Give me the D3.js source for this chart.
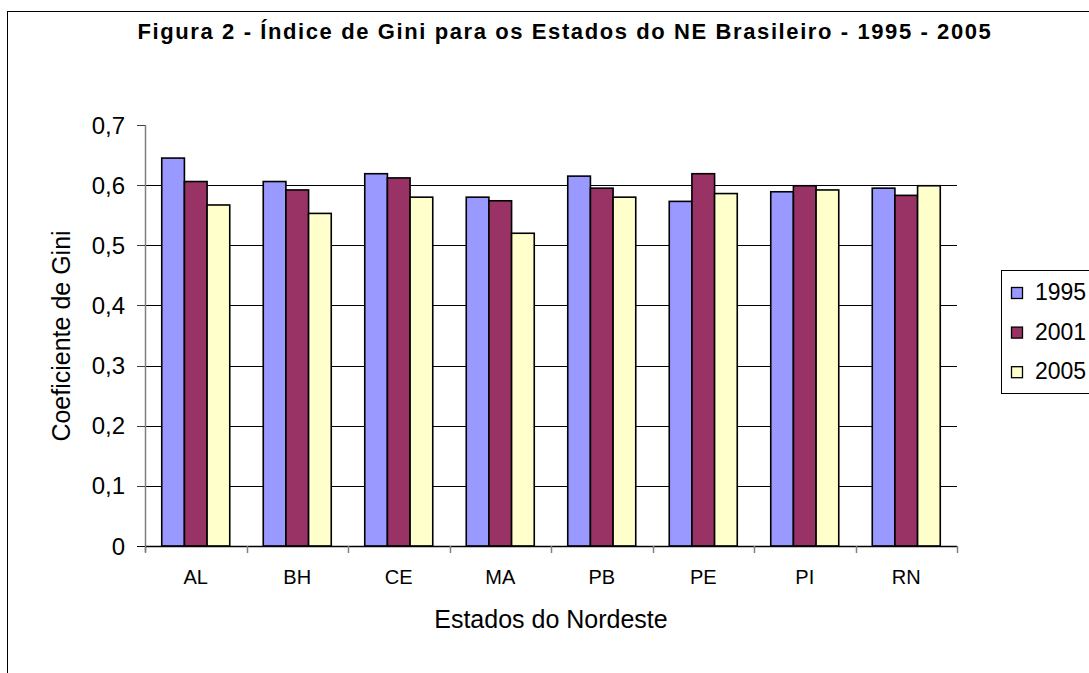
<!DOCTYPE html>
<html>
<head>
<meta charset="utf-8">
<script src="https://cdn.jsdelivr.net/npm/d3@7"></script>
<style>
    body { margin: 0; background: #fff; }
    svg { display: block; }
    text { font-family: Arial, "Liberation Sans", sans-serif; fill: #000; }
</style>
</head>
<body>
<div id="chart"></div>
<script>
// dados
const estados = ["AL", "BH", "CE", "MA", "PB", "PE", "PI", "RN"]
const anos = ["1995", "2001", "2005"]
const gini1995 = [0.645, 0.606, 0.619, 0.580, 0.615, 0.573, 0.589, 0.595]
const gini2001 = [0.606, 0.592, 0.612, 0.574, 0.595, 0.619, 0.599, 0.583]
const gini2005 = [0.567, 0.553, 0.580, 0.520, 0.580, 0.586, 0.592, 0.599]
const yTicks = [0, 0.1, 0.2, 0.3, 0.4, 0.5, 0.6, 0.7]
const cores = ["#9999FF", "#993366", "#FFFFCC"]

const width = 1089
const height = 673
const plot = { left: 145, right: 957, top: 125, bottom: 546 }

let svg = d3.select("#chart").append("svg")
    .attr("width", width)
    .attr("height", height)

// moldura do gráfico
svg.append("rect")
    .attr("x", 7.5).attr("y", 11.5)
    .attr("width", 1200).attr("height", 800)
    .attr("fill", "#fff")
    .attr("stroke", "#000")

let series = [gini1995, gini2001, gini2005]
let data = estados.map(function (e, i) {
    return { estado: e, valores: anos.map(function (a, j) { return { ano: a, v: series[j][i] } }) }
})

let x = d3.scaleBand()
    .domain(estados)
    .range([plot.left, plot.right])
    .paddingInner(0.33)
    .paddingOuter(0.165)
let xAno = d3.scaleBand()
    .domain(anos)
    .range([0, x.bandwidth()])
let y = d3.scaleLinear()
    .domain([0, 0.7])
    .range([plot.bottom, plot.top])
let color = d3.scaleOrdinal().domain(anos).range(cores)

// grade
svg.append("g")
    .selectAll("line")
    .data(yTicks.filter(function (t) { return t > 0 && t < 0.7 }))
    .enter()
    .append("line")
    .attr("x1", plot.left).attr("x2", plot.right)
    .attr("y1", function (d) { return Math.round(y(d)) + 0.5 })
    .attr("y2", function (d) { return Math.round(y(d)) + 0.5 })
    .attr("stroke", "#000")

// barras
svg.append("g")
    .selectAll("g")
    .data(data)
    .enter()
    .append("g")
    .attr("transform", function (d) { return "translate(" + x(d.estado) + ",0)" })
    .selectAll("rect")
    .data(function (d) { return d.valores })
    .enter()
    .append("rect")
    .attr("x", function (d) { return xAno(d.ano) })
    .attr("y", function (d) { return y(d.v) })
    .attr("width", xAno.bandwidth())
    .attr("height", function (d) { return y(0) - y(d.v) })
    .attr("fill", function (d) { return color(d.ano) })
    .attr("stroke", "#000")
    .attr("stroke-width", 1.6)

// eixo y
let yAxis = svg.append("g")
yAxis.append("line")
    .attr("x1", plot.left + 0.5).attr("x2", plot.left + 0.5)
    .attr("y1", plot.top).attr("y2", plot.bottom + 6)
    .attr("stroke", "#808080")
    .attr("stroke-width", 1.5)
yAxis.selectAll(".tick")
    .data(yTicks)
    .enter()
    .append("line")
    .attr("x1", plot.left - 8).attr("x2", plot.left)
    .attr("y1", function (d) { return Math.round(y(d)) + 0.5 })
    .attr("y2", function (d) { return Math.round(y(d)) + 0.5 })
    .attr("stroke", function (d) { return d == 0 ? "#000" : "#404040" })
yAxis.selectAll("text")
    .data(yTicks)
    .enter()
    .append("text")
    .attr("x", 125)
    .attr("y", function (d) { return y(d) })
    .attr("dy", "0.36em")
    .attr("text-anchor", "end")
    .style("font-size", "24px")
    .text(function (d) { return d == 0 ? "0" : d3.format(".1f")(d).replace(".", ",") })

// eixo x
let xAxis = svg.append("g")
xAxis.append("line")
    .attr("x1", plot.left).attr("x2", plot.right)
    .attr("y1", plot.bottom + 0.5).attr("y2", plot.bottom + 0.5)
    .attr("stroke", "#000")
    .attr("stroke-width", 1.5)
let bordas = estados.map(function (e) { return x(e) - x.step() * 0.165 })
bordas.push(plot.right)
xAxis.selectAll(".tick")
    .data(bordas)
    .enter()
    .append("line")
    .attr("x1", function (d) { return Math.round(d) + 0.5 })
    .attr("x2", function (d) { return Math.round(d) + 0.5 })
    .attr("y1", plot.bottom).attr("y2", plot.bottom + 7)
    .attr("stroke", "#808080")
    .attr("stroke-width", 1.5)
xAxis.selectAll("text")
    .data(estados)
    .enter()
    .append("text")
    .attr("x", function (d) { return x(d) + x.bandwidth() / 2 })
    .attr("y", 584)
    .attr("text-anchor", "middle")
    .style("font-size", "20px")
    .text(function (d) { return d })

// títulos
svg.append("text")
    .attr("x", 565).attr("y", 39)
    .attr("text-anchor", "middle")
    .style("font-size", "22px")
    .style("font-weight", "bold")
    .style("letter-spacing", "1.6px")
    .text("Figura 2 - Índice de Gini para os Estados do NE Brasileiro - 1995 - 2005")

svg.append("text")
    .attr("x", 551).attr("y", 628)
    .attr("text-anchor", "middle")
    .style("font-size", "25px")
    .text("Estados do Nordeste")

svg.append("text")
    .attr("transform", "translate(70,336) rotate(-90)")
    .attr("text-anchor", "middle")
    .style("font-size", "25px")
    .text("Coeficiente de Gini")

// legenda
let legend = svg.append("g")
legend.append("rect")
    .attr("x", 1001.5).attr("y", 270.5)
    .attr("width", 200).attr("height", 123)
    .attr("fill", "#fff")
    .attr("stroke", "#000")
let item = legend.selectAll(".item")
    .data(anos)
    .enter()
    .append("g")
    .attr("transform", function (d, i) { return "translate(0," + (i * 39.6) + ")" })
item.append("rect")
    .attr("x", 1011.5).attr("y", 287.5)
    .attr("width", 11).attr("height", 11)
    .attr("fill", function (d) { return color(d) })
    .attr("stroke", "#000")
    .attr("stroke-width", 1.3)
item.append("text")
    .attr("x", 1035).attr("y", 300)
    .style("font-size", "23px")
    .text(function (d) { return d })
</script>
</body>
</html>
